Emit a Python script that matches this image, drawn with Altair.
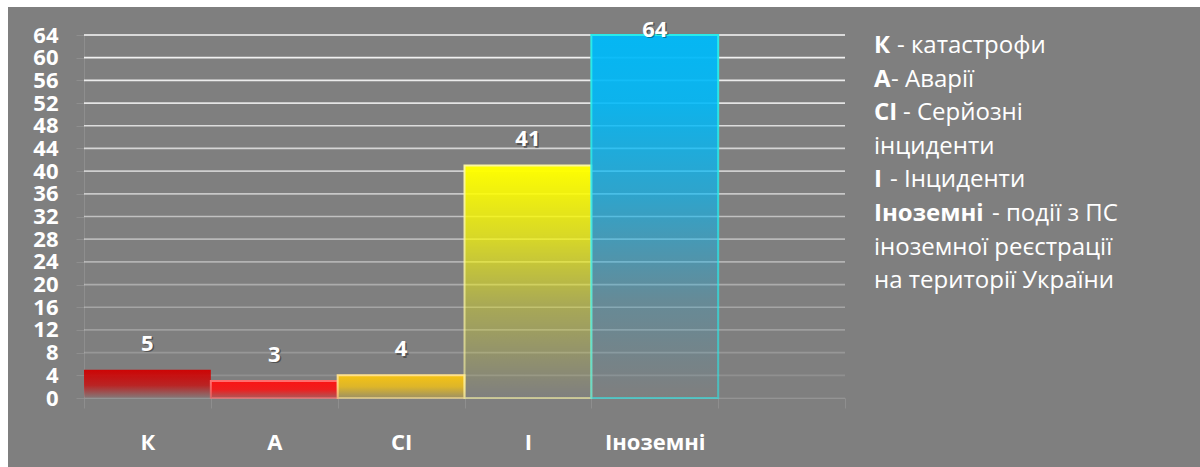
import altair as alt
import pandas as pd

# ---- data -------------------------------------------------------------
CATEGORIES = ["К", "А", "СІ", "І", "Іноземні"]
COUNTS = [5, 3, 4, 41, 64]
Y_TICKS = list(range(0, 65, 4))

LEGEND_BOLD = ["К", "А", "СІ", "", "І", "Іноземні", "", ""]
LEGEND_REST = [" - катастрофи", "- Аварії", " - Серйозні", "інциденти",
               " - Інциденти", " - події з ПС", "іноземної реєстрації",
               "на території України"]

# ---- layout / styles -----------------------------------------------------
W, H = 761, 363
PAD = {"left": 84, "top": 35, "right": 355, "bottom": 69}
BG = "#7f7f7f"
FONT = "Open Sans"
FAINT = "#8e8e8e"

# top colour, edge colour and alpha ramp (bottom -> top) of each bar
BAR_STYLE = {
    "К": ((205, 5, 5), None, [(0, 0.05), (0.45, 0.75), (1, 1)]),
    "А": ((250, 20, 20), (255, 110, 110), [(0, 0.35), (0.5, 0.9), (1, 1)]),
    "СІ": ((245, 195, 20), (255, 225, 140), [(0, 0.25), (0.5, 0.8), (1, 1)]),
    "І": ((255, 255, 0), (250, 245, 160), [(0, 0.0), (0.4, 0.33), (0.7, 0.7), (1, 1)]),
    "Іноземні": ((0, 185, 248), (40, 235, 235), [(0, 0.0), (0.27, 0.2), (0.55, 0.62), (0.82, 0.9), (1, 0.96)]),
}

# legend text: font size and x offset of the regular part after its bold prefix
# (SVG drops leading spaces, so the offset includes the space width)
LEGEND_SIZE = 24
LEGEND_GAP = {"К": 23, "А": 17, "СІ": 29, "І": 16, "Іноземні": 118, "": 0}
LEGEND_X = 790
LEGEND_Y0 = 11
LEGEND_STEP = 33.6


def rgba(c, a):
    return f"rgba({c[0]},{c[1]},{c[2]},{a})"


def ramp(c, stops):
    return alt.Gradient(
        gradient="linear", x1=0, x2=0, y1=1, y2=0,
        stops=[alt.GradientStop(offset=o, color=rgba(c, a)) for o, a in stops],
    )


bars_df = pd.DataFrame({"cat": CATEGORIES, "n": COUNTS})
grid_df = pd.DataFrame({"v": Y_TICKS})
legend_df = pd.DataFrame({
    "idx": list(range(len(LEGEND_REST))),
    "bold": LEGEND_BOLD,
    "rest": [s.lstrip() for s in LEGEND_REST],
})
legend_df["gap"] = [LEGEND_GAP[b] for b in LEGEND_BOLD]

y_scale = alt.Scale(domain=[0, 64], nice=False, zero=True)
y_axis = alt.Axis(values=Y_TICKS, title=None, grid=False, labelOverlap=False,
                  labelFont=FONT, labelFontWeight="bold", labelFontSize=22,
                  labelColor="white", labelPadding=18, tickSize=8,
                  tickColor=FAINT, domainColor=FAINT, labelBaseline="middle")
x_scale = alt.Scale(domain=CATEGORIES + [""], paddingInner=0, paddingOuter=0)
x_axis = alt.Axis(title=None, labelAngle=0, labelFont=FONT, labelFontWeight="bold",
                  labelFontSize=22, labelColor="white", tickBand="extent",
                  tickSize=10, tickColor=FAINT, domainColor=FAINT, labelPadding=24)


def X(field="cat:N"):
    return alt.X(field, scale=x_scale, axis=x_axis, sort=None)


def Y(field):
    return alt.Y(field, scale=y_scale, axis=y_axis)


# horizontal grid lines, bright at the top and fading towards zero
grid = alt.Chart(grid_df).mark_rule(color="white", strokeWidth=1.7).encode(
    y=Y("v:Q"),
    x=alt.value(0), x2=alt.value(W),
    opacity=alt.Opacity("v:Q", scale=alt.Scale(domain=[0, 64], range=[0.08, 0.95]),
                        legend=None),
)

layers = [grid]
base = alt.Chart(bars_df)
for cat in CATEGORIES:
    top, edge, stops = BAR_STYLE[cat]
    kw = dict(fill=ramp(top, stops))
    if edge is not None:
        kw.update(stroke=ramp(edge, [(0, 0.55), (1, 1)]), strokeWidth=2)
    layers.append(
        base.transform_filter(alt.datum.cat == cat)
        .mark_bar(**kw)
        .encode(x=X(), y=Y("n:Q"))
    )

labels = base.transform_calculate(ly="min(datum.n + 4.6, 64.9)")
shadow = labels.mark_text(font=FONT, fontWeight="bold", fontSize=22, color="black",
                          opacity=0.35, dx=1.5, dy=1.5, baseline="middle").encode(
    x=X(), y=Y("ly:Q"), text="n:Q")
value_text = labels.mark_text(font=FONT, fontWeight="bold", fontSize=22, color="white",
                              baseline="middle").encode(
    x=X(), y=Y("ly:Q"), text="n:Q")
layers += [shadow, value_text]

main = alt.layer(*layers)

# white page strips along the top and left edges
one = pd.DataFrame({"k": [0]})
top_strip = alt.Chart(one).mark_rect(color="white").encode(
    x=alt.value(-PAD["left"]), x2=alt.value(W + PAD["right"]),
    y=alt.value(-PAD["top"]), y2=alt.value(-PAD["top"] + 7),
)
left_strip = alt.Chart(one).mark_rect(color="white").encode(
    x=alt.value(-PAD["left"]), x2=alt.value(-PAD["left"] + 8),
    y=alt.value(-PAD["top"]), y2=alt.value(H + PAD["bottom"]),
)

# explanatory text on the right
leg = alt.Chart(legend_df).transform_calculate(
    py=f"{LEGEND_Y0} + datum.idx * {LEGEND_STEP}",
    rx=f"{LEGEND_X} + datum.gap",
)
leg_bold = leg.mark_text(font=FONT, fontWeight="bold", fontSize=LEGEND_SIZE,
                         color="white", align="left", baseline="middle").encode(
    x=alt.value(LEGEND_X), y=alt.Y("py:Q", scale=None, axis=None), text="bold:N")
leg_rest = leg.mark_text(font=FONT, fontSize=LEGEND_SIZE, color="white",
                         align="left", baseline="middle").encode(
    x=alt.X("rx:Q", scale=None, axis=None), y=alt.Y("py:Q", scale=None, axis=None),
    text="rest:N")

chart = alt.layer(main, top_strip, left_strip, leg_bold, leg_rest).resolve_scale(
    x="independent", y="independent"
).properties(
    width=W, height=H, padding=PAD, background=BG,
    autosize=alt.AutoSizeParams(type="none"),
).configure_view(strokeWidth=0)

chart.save("out.html", embed_options={"renderer": "svg", "actions": False})
